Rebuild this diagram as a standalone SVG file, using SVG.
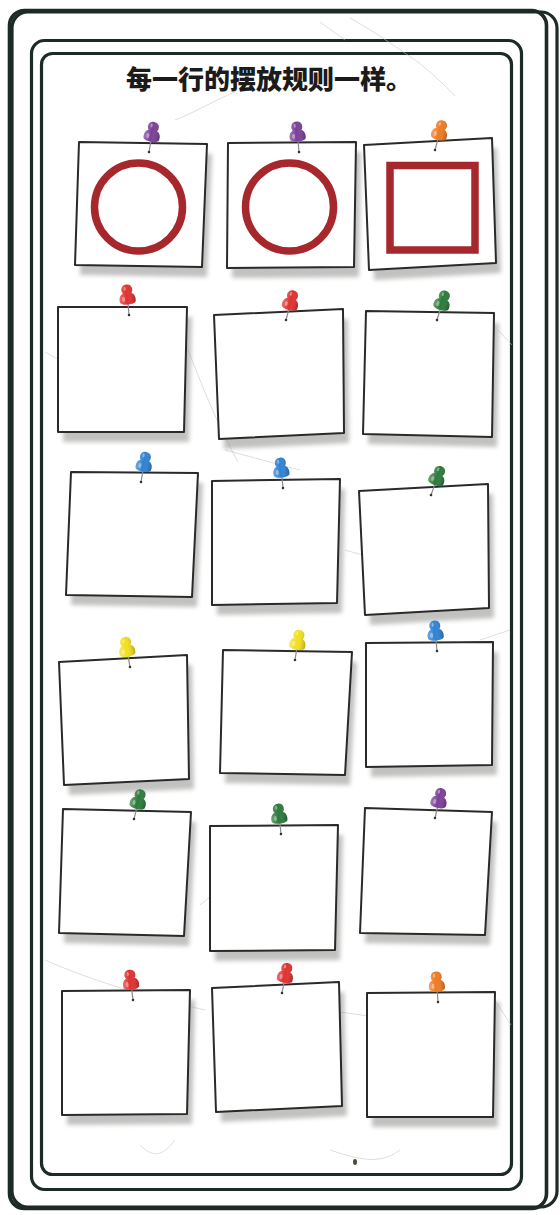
<svg xmlns="http://www.w3.org/2000/svg" xmlns:xlink="http://www.w3.org/1999/xlink" width="560" height="1215" viewBox="0 0 560 1215">
<style>
.frame{fill:none;stroke:#1d2a26;stroke-width:3.2}
.card{fill:#ffffff;stroke:#2a2a2a;stroke-width:2;stroke-linejoin:round}
.shadow{fill:#8f8f8c;opacity:0.55;filter:url(#blur)}
.crack{fill:none;stroke:#c4c4bf;stroke-width:0.8;opacity:0.7}
.shape{fill:none;stroke:#a6282c;stroke-width:7.5}
.title{font-family:"Noto Sans CJK SC","Noto Sans",sans-serif;font-weight:900;font-size:26px;fill:#1b1b1b}
</style>
<defs>
<filter id="blur" x="-20%" y="-20%" width="140%" height="140%"><feGaussianBlur stdDeviation="2.2"/></filter>
<linearGradient id="pinShade" x1="0" y1="0" x2="1" y2="0">
<stop offset="0" stop-color="#ffffff" stop-opacity="0.3"/>
<stop offset="0.45" stop-color="#ffffff" stop-opacity="0"/>
<stop offset="1" stop-color="#000000" stop-opacity="0.25"/>
</linearGradient>
<g id="pin">
<line x1="0" y1="-11" x2="0" y2="0" stroke="#8a8a8a" stroke-width="1.2"/>
<circle cx="0" cy="0" r="1.3" fill="#333333"/>
<path d="M -7.8,-13 C -8.8,-18 -6.5,-21 -4.2,-21.8 C -6.3,-23.5 -6.3,-30.5 0,-30.5 C 6.3,-30.5 6.3,-23.5 4.2,-21.8 C 6.5,-21 8.8,-18 7.8,-13 C 6,-9.5 -6,-9.5 -7.8,-13 Z"/>
<path fill="url(#pinShade)" d="M -7.8,-13 C -8.8,-18 -6.5,-21 -4.2,-21.8 C -6.3,-23.5 -6.3,-30.5 0,-30.5 C 6.3,-30.5 6.3,-23.5 4.2,-21.8 C 6.5,-21 8.8,-18 7.8,-13 C 6,-9.5 -6,-9.5 -7.8,-13 Z"/>
<ellipse cx="-4" cy="-16" rx="1.5" ry="2.6" fill="#ffffff" opacity="0.4"/>
<ellipse cx="-2" cy="-26.5" rx="1.1" ry="2" fill="#ffffff" opacity="0.4"/>
</g>
</defs>

<rect width="560" height="1215" fill="#ffffff"/>

<g id="frame">
<rect x="12" y="12" width="545" height="1195" rx="16" fill="#ffffff" class="frame"/>
<rect x="9.5" y="10.5" width="537" height="1198" rx="15" fill="#fcfcfb" class="frame" style="stroke-width:3.6"/>
<rect x="31.5" y="40.5" width="490" height="1149" rx="13" fill="#fcfcfb" class="frame"/>
<rect x="41.5" y="53.5" width="470" height="1121" rx="11" fill="#ecebe8" class="frame"/>
</g>

<g id="texture">
<path class="crack" d="M 350,18 C 380,35 400,50 418,62 C 430,72 445,85 455,96"/>
<path class="crack" d="M 320,22 L 345,40"/>
<path class="crack" d="M 175,120 C 200,110 215,100 235,92"/>
<path class="crack" d="M 186,345 C 200,380 215,420 238,462"/>
<path class="crack" d="M 45,352 L 60,360"/>
<path class="crack" d="M 498,330 L 512,345"/>
<path class="crack" d="M 225,450 L 300,470"/>
<path class="crack" d="M 345,550 L 380,560"/>
<path class="crack" d="M 480,640 L 510,630"/>
<path class="crack" d="M 200,905 C 230,880 250,870 270,860"/>
<path class="crack" d="M 45,960 C 90,980 140,995 205,1010"/>
<path class="crack" d="M 270,1000 C 320,1010 360,1015 400,1020"/>
<path class="crack" d="M 140,1145 C 150,1155 160,1160 175,1140"/>
<path class="crack" d="M 330,1150 C 360,1160 380,1165 400,1150"/>
<path class="crack" d="M 495,1000 L 511,1025"/>
<ellipse cx="355" cy="1162" rx="2" ry="3" fill="#4a4a3a"/>
</g>

<g id="title">
<text class="title" x="269" y="89" text-anchor="middle">每一行的摆放规则一样。</text>
</g>

<g id="connectors"></g>

<g id="card-r1c1">
<polygon class="shadow" points="84,152 212,154 207,277 80,275"/>
<polygon class="card" points="79,142 207,144 202,267 75,265"/>
<circle class="shape" cx="138.5" cy="207" r="44"/>
<use href="#pin" transform="translate(149,152) rotate(10)" fill="#7b3f98"/>
</g>
<g id="card-r1c2">
<polygon class="shadow" points="233,153 361,152 359,277 232,278"/>
<polygon class="card" points="228,143 356,142 354,267 227,268"/>
<circle class="shape" cx="289.5" cy="207" r="44"/>
<use href="#pin" transform="translate(299,152) rotate(-5)" fill="#7b3f98"/>
</g>
<g id="card-r1c3">
<polygon class="shadow" points="369,155 497,148 501,273 374,280"/>
<polygon class="card" points="364,145 492,138 496,263 369,270"/>
<rect class="shape" x="390" y="165.5" width="85" height="84.5"/>
<use href="#pin" transform="translate(435,150) rotate(15)" fill="#f07a22"/>
</g>

<g id="card-r2c1">
<polygon class="shadow" points="63,317 192,317 189,442 63,442"/>
<polygon class="card" points="58,307 187,307 184,432 58,432"/>
<use href="#pin" transform="translate(129,315) rotate(-5)" fill="#e0312f"/>
</g>
<g id="card-r2c2">
<polygon class="shadow" points="219,325 348,319 349,443 224,449"/>
<polygon class="card" points="214,315 343,309 344,433 219,439"/>
<use href="#pin" transform="translate(286,320) rotate(15)" fill="#e0312f"/>
</g>
<g id="card-r2c3">
<polygon class="shadow" points="371,321 499,323 497,447 368,444"/>
<polygon class="card" points="366,311 494,313 492,437 363,434"/>
<use href="#pin" transform="translate(437,320) rotate(17)" fill="#2b7a3b"/>
</g>

<g id="card-r3c1">
<polygon class="shadow" points="76,482 203,483 197,607 71,605"/>
<polygon class="card" points="71,472 198,473 192,597 66,595"/>
<use href="#pin" transform="translate(141,482) rotate(10)" fill="#2f82d2"/>
</g>
<g id="card-r3c2">
<polygon class="shadow" points="217,491 345,489 342,613 217,615"/>
<polygon class="card" points="212,481 340,479 337,603 212,605"/>
<use href="#pin" transform="translate(283,488) rotate(-6)" fill="#2f82d2"/>
</g>
<g id="card-r3c3">
<polygon class="shadow" points="364,501 493,494 494,618 370,625"/>
<polygon class="card" points="359,491 488,484 489,608 365,615"/>
<use href="#pin" transform="translate(431,495) rotate(20)" fill="#2b7a3b"/>
</g>

<g id="card-r4c1">
<polygon class="shadow" points="64,672 192,665 194,789 69,795"/>
<polygon class="card" points="59,662 187,655 189,779 64,785"/>
<use href="#pin" transform="translate(130,667) rotate(-10)" fill="#f2df1e"/>
</g>
<g id="card-r4c2">
<polygon class="shadow" points="228,660 357,662 350,785 225,783"/>
<polygon class="card" points="223,650 352,652 345,775 220,773"/>
<use href="#pin" transform="translate(295,660) rotate(9)" fill="#f2df1e"/>
</g>
<g id="card-r4c3">
<polygon class="shadow" points="371,653 498,652 497,775 371,777"/>
<polygon class="card" points="366,643 493,642 492,765 366,767"/>
<use href="#pin" transform="translate(437,651) rotate(-5)" fill="#2f82d2"/>
</g>

<g id="card-r5c1">
<polygon class="shadow" points="68,819 196,822 189,946 64,943"/>
<polygon class="card" points="63,809 191,812 184,936 59,933"/>
<use href="#pin" transform="translate(134,819) rotate(14)" fill="#2b7a3b"/>
</g>
<g id="card-r5c2">
<polygon class="shadow" points="215,836 343,835 340,960 215,961"/>
<polygon class="card" points="210,826 338,825 335,950 210,951"/>
<use href="#pin" transform="translate(281,834) rotate(-6)" fill="#2b7a3b"/>
</g>
<g id="card-r5c3">
<polygon class="shadow" points="370,818 497,822 490,945 365,943"/>
<polygon class="card" points="365,808 492,812 485,935 360,933"/>
<use href="#pin" transform="translate(435,818) rotate(13)" fill="#7b3f98"/>
</g>

<g id="card-r6c1">
<polygon class="shadow" points="67,1001 195,1000 192,1124 67,1125"/>
<polygon class="card" points="62,991 190,990 187,1114 62,1115"/>
<use href="#pin" transform="translate(133,1000) rotate(-7)" fill="#e0312f"/>
</g>
<g id="card-r6c2">
<polygon class="shadow" points="217,998 344,992 347,1116 221,1122"/>
<polygon class="card" points="212,988 339,982 342,1106 216,1112"/>
<use href="#pin" transform="translate(282,993) rotate(11)" fill="#e0312f"/>
</g>
<g id="card-r6c3">
<polygon class="shadow" points="372,1003 500,1002 498,1127 372,1127"/>
<polygon class="card" points="367,993 495,992 493,1117 367,1117"/>
<use href="#pin" transform="translate(438,1002) rotate(-4)" fill="#f07a22"/>
</g>
</svg>
